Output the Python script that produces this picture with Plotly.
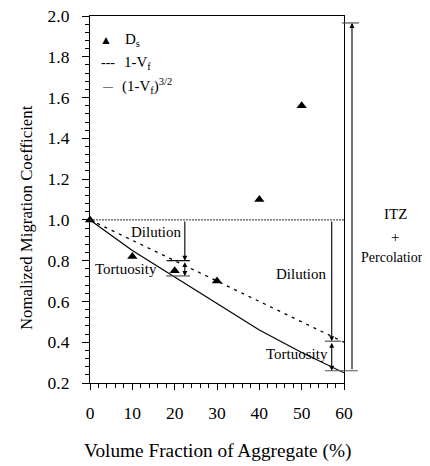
import plotly.graph_objects as go

# ---- data ----
vf = [0, 10, 20, 30, 40, 50]
ds = [1.00, 0.82, 0.75, 0.70, 1.10, 1.56]
vf_line = [0, 10, 20, 30, 40, 50, 60]
dilution = [1.00, 0.90, 0.80, 0.70, 0.60, 0.50, 0.40]
tortuosity = [1.00, 0.85, 0.72, 0.59, 0.46, 0.35, 0.25]
x_ticks = [0, 10, 20, 30, 40, 50, 60]
y_ticks = [0.2, 0.4, 0.6, 0.8, 1.0, 1.2, 1.4, 1.6, 1.8, 2.0]
y_tick_text = ["0.2", "0.4", "0.6", "0.8", "1.0", "1.2", "1.4", "1.6", "1.8", "2.0"]

# annotation levels
ref_level = 1.0
left_x = 22.4
left_levels = [1.0, 0.80, 0.725]
right_x = 57.1
right_levels = [1.0, 0.405, 0.26]
itz_levels = [0.26, 1.966]

FONT = "Liberation Serif"
X0, X1 = 0, 60
Y0, Y1 = 0.2, 2.0

def px(v):
    return (v - X0) / (X1 - X0)

def py(v):
    return (v - Y0) / (Y1 - Y0)

fig = go.Figure()
fig.add_trace(go.Scatter(x=vf_line, y=dilution, mode="lines",
                         line=dict(color="black", width=1.3, dash="3px,5px"),
                         showlegend=False))
fig.add_trace(go.Scatter(x=vf_line, y=tortuosity, mode="lines",
                         line=dict(color="black", width=1.2),
                         showlegend=False))
fig.add_trace(go.Scatter(x=vf, y=ds, mode="markers",
                         marker=dict(symbol="triangle-up", size=9, color="black"),
                         cliponaxis=False, showlegend=False))

shapes = []
# reference line at 1.0
shapes.append(dict(type="line", xref="x", yref="y", x0=0, x1=60, y0=ref_level, y1=ref_level,
                   line=dict(color="#333", width=1, dash="2px,1px")))
def cap(xa, xb, yv, color="#555"):
    shapes.append(dict(type="line", xref="paper", yref="paper", x0=xa, x1=xb,
                       y0=py(yv), y1=py(yv), line=dict(color=color, width=1.2)))
cap(px(18.1), px(23.6), left_levels[1], "black")
cap(px(18.0), px(23.6), left_levels[2])
cap(px(55.5), px(59.3), right_levels[1])
cap(0.925, 1.054, right_levels[2])
cap(0.992, 1.059, itz_levels[1])

ann = []
def arrow(x, y_from, y_to, both=False, xref="x", xpaper=None):
    d = dict(x=x if xpaper is None else xpaper, xref=xref if xpaper is None else "paper",
             y=y_to, yref="y", ax=0, ay=y_from, ayref="y", axref="pixel",
             text="", showarrow=True, arrowhead=2, arrowsize=0.9, arrowwidth=1.1,
             arrowcolor="black", standoff=0, startstandoff=0)
    if both:
        d["arrowside"] = "end+start"
        d["startarrowhead"] = 2
        d["startarrowsize"] = 0.9
    ann.append(d)

arrow(left_x, left_levels[0], left_levels[1])
arrow(left_x, left_levels[1], left_levels[2], both=True)
arrow(right_x, right_levels[0], right_levels[1])
arrow(right_x, right_levels[1], right_levels[2], both=True)
arrow(None, itz_levels[0], itz_levels[1], xpaper=(352 - 90) / 254)

def label(text, x, y, size=15, xref="x", yref="y", xanchor="center"):
    ann.append(dict(text=text, x=x, y=y, xref=xref, yref=yref, showarrow=False,
                    xanchor=xanchor, yanchor="middle",
                    font=dict(family=FONT, size=size, color="black")))

label("Dilution", 15.7, 0.94)
label("Tortuosity", 8.4, 0.758)
label("Dilution", 50.0, 0.735)
label("Tortuosity", 48.8, 0.34)
label("ITZ", 1.2008, 1.029, xref="paper")
label("+", 1.2008, 0.916, xref="paper")
label("Percolation", (427 - 90) / 254, 0.818, size=14, xref="paper", xanchor="right")

# legend (drawn as text)
label("▲", px(3.8), py(1.88), size=12, xref="paper", yref="paper")
label("D<sub>s</sub>", px(7.8), py(1.88), size=15, xref="paper", yref="paper", xanchor="left")
label("---", px(2.2), py(1.77), size=14, xref="paper", yref="paper", xanchor="left")
label("1-V<sub>f</sub>", px(7.5), py(1.77), size=15, xref="paper", yref="paper", xanchor="left")
label("—", px(2.4), py(1.655), size=10, xref="paper", yref="paper", xanchor="left")
label("(1-V<sub>f</sub>)<sup>3/2</sup>", px(7.1), py(1.655), size=15, xref="paper", yref="paper", xanchor="left")

# axis titles
ann.append(dict(text="Volume Fraction of Aggregate (%)", x=0.5, y=0, xref="paper", yref="paper",
                yshift=-68, showarrow=False, xanchor="center", yanchor="middle",
                font=dict(family=FONT, size=19.3, color="black")))
ann.append(dict(text="Nomalized Migration Coefficient", x=0, y=(383 - 204) / 367, xref="paper",
                yref="paper", xshift=-64, yshift=-14, showarrow=False, textangle=-90,
                xanchor="center", yanchor="middle",
                font=dict(family=FONT, size=16.8, color="black")))

axis_common = dict(showgrid=False, zeroline=False, showline=True, linecolor="black",
                   linewidth=1.2, mirror=True, ticks="outside", tickcolor="black",
                   automargin=False, ticklabeloverflow="allow",
                   tickfont=dict(family=FONT, size=17.5, color="black"))

# the page body adds an 8px margin, so the figure is 8px smaller than the window
fig.update_layout(
    width=422, height=458,
    margin=dict(l=82, r=86, t=8, b=83),
    paper_bgcolor="white", plot_bgcolor="white",
    showlegend=False,
    shapes=shapes, annotations=ann,
    xaxis=dict(range=[X0, X1], tickmode="array", tickvals=x_ticks, ticklen=6,
               ticklabelstandoff=8,
               minor=dict(tick0=0, dtick=2, ticklen=4, ticks="outside", tickcolor="black"),
               **axis_common),
    yaxis=dict(range=[Y0, Y1 + 1e-9], tickmode="array", tickvals=y_ticks, ticktext=y_tick_text,
               ticklen=7, ticklabelstandoff=9,
               minor=dict(tick0=0.2, dtick=0.04, ticklen=4, ticks="outside", tickcolor="black"),
               **axis_common),
)

fig.write_html("out.html")
